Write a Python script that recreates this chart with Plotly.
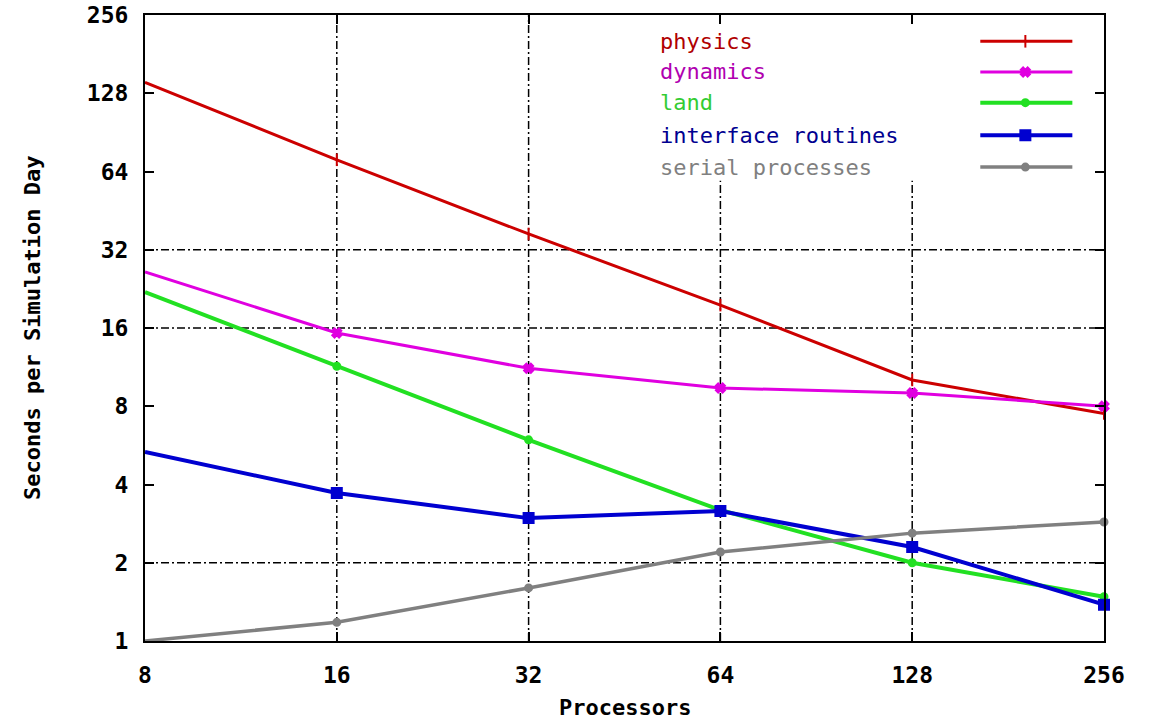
import math
import plotly.graph_objects as go

# ---------------- data ----------------
processors = [8, 16, 32, 64, 128, 256]
physics = [141, 71, 36.8, 19.6, 10.1, 7.5]
dynamics = [26.3, 15.3, 11.2, 9.4, 9.0, 8.0]
land = [22.0, 11.4, 5.94, 3.19, 2.0, 1.48]
interface = [5.34, 3.71, 2.97, 3.16, 2.30, 1.38]
serial = [1.0, 1.18, 1.60, 2.20, 2.60, 2.87]

series_names = ["physics", "dynamics", "land", "interface routines", "serial processes"]
series_values = [physics, dynamics, land, interface, serial]
line_colors = ["#cc0000", "#e000e0", "#22e022", "#0000d0", "#808080"]
text_colors = ["#b00000", "#b000b0", "#33cc33", "#000090", "#808080"]
line_widths = [3, 3, 4, 4, 3.5]
marker_symbols = ["line-ns", "x", "circle", "square", "circle"]
marker_sizes = [9, 8, 7, 10, 7]

x_tick_vals = [8, 16, 32, 64, 128, 256]
y_tick_vals = [1, 2, 4, 8, 16, 32, 64, 128, 256]

grid_x_full = [16, 32]
grid_x_partial = [64, 128]
grid_x_partial_top = 59
grid_y = [2, 16, 32]

# legend layout (fractions of plot area)
legend_rows = [0.958, 0.909, 0.860, 0.808, 0.757]
legend_text_x = 0.535
legend_line_x = [0.871, 0.967]
legend_marker_x = 0.918

FONT = "DejaVu Sans Mono"

fig = go.Figure()

grid_style = dict(color="black", width=1.5, dash="8px,3px,2px,3px")

# vertical grid lines
for gx in grid_x_full:
    fig.add_trace(go.Scatter(x=[gx, gx], y=[1, 256], mode="lines", line=grid_style,
                             hoverinfo="skip", showlegend=False))
for gx in grid_x_partial:
    fig.add_trace(go.Scatter(x=[gx, gx], y=[1, grid_x_partial_top], mode="lines", line=grid_style,
                             hoverinfo="skip", showlegend=False))
# horizontal grid lines
for gy in grid_y:
    fig.add_trace(go.Scatter(x=[8, 256], y=[gy, gy], mode="lines", line=grid_style,
                             hoverinfo="skip", showlegend=False))

# data series
for name, vals, lc, lw, ms, msz in zip(series_names, series_values, line_colors,
                                       line_widths, marker_symbols, marker_sizes):
    fig.add_trace(go.Scatter(
        x=processors, y=vals, mode="lines+markers", name=name,
        line=dict(color=lc, width=lw),
        marker=dict(symbol=ms, size=msz, color=lc, line=dict(color=lc, width=2)),
        cliponaxis=False, showlegend=False))

# legend samples on an overlay axis
for row, lc, lw, ms, msz in zip(legend_rows, line_colors, line_widths, marker_symbols, marker_sizes):
    fig.add_trace(go.Scatter(
        x=legend_line_x, y=[row, row], mode="lines", xaxis="x2", yaxis="y2",
        line=dict(color=lc, width=lw), hoverinfo="skip", showlegend=False))
    fig.add_trace(go.Scatter(
        x=[legend_marker_x], y=[row], mode="markers", xaxis="x2", yaxis="y2",
        marker=dict(symbol=ms, size=msz, color=lc, line=dict(color=lc, width=2)),
        hoverinfo="skip", showlegend=False))

annotations = []
for row, name, tc in zip(legend_rows, series_names, text_colors):
    annotations.append(dict(
        x=legend_text_x, y=row, xref="paper", yref="paper", text=name,
        showarrow=False, xanchor="left", yanchor="middle",
        font=dict(family=FONT, size=22, color=tc)))

annotations.append(dict(
    x=0.5, y=0, xref="paper", yref="paper", text="<b>Processors</b>", showarrow=False,
    xanchor="center", yanchor="middle", yshift=-66,
    font=dict(family=FONT, size=22, color="black")))
annotations.append(dict(
    x=0, y=0.5, xref="paper", yref="paper", text="<b>Seconds per Simulation Day</b>",
    showarrow=False, xanchor="center", yanchor="middle", xshift=-113, textangle=-90,
    font=dict(family=FONT, size=22, color="black")))

axis_common = dict(
    type="log", showgrid=False, zeroline=False, showline=True, linecolor="black",
    linewidth=2, mirror="ticks", ticks="inside", ticklen=9, tickwidth=2, automargin=False,
    tickcolor="black", tickfont=dict(family=FONT, size=23, color="black", weight="bold"))

fig.update_layout(
    width=1154, height=719, autosize=False,
    margin=dict(l=145, r=50, t=15, b=78),
    paper_bgcolor="white", plot_bgcolor="white",
    xaxis=dict(range=[math.log10(8), math.log10(256)], tickvals=x_tick_vals,
               ticktext=[str(v) for v in x_tick_vals], ticklabelstandoff=12, **axis_common),
    yaxis=dict(range=[0, math.log10(256)], tickvals=y_tick_vals,
               ticktext=[str(v) for v in y_tick_vals], ticklabelstandoff=10, **axis_common),
    xaxis2=dict(overlaying="x", range=[0, 1], visible=False),
    yaxis2=dict(overlaying="y", range=[0, 1], visible=False),
    annotations=annotations,
    showlegend=False,
)

fig.write_html("out.html")
